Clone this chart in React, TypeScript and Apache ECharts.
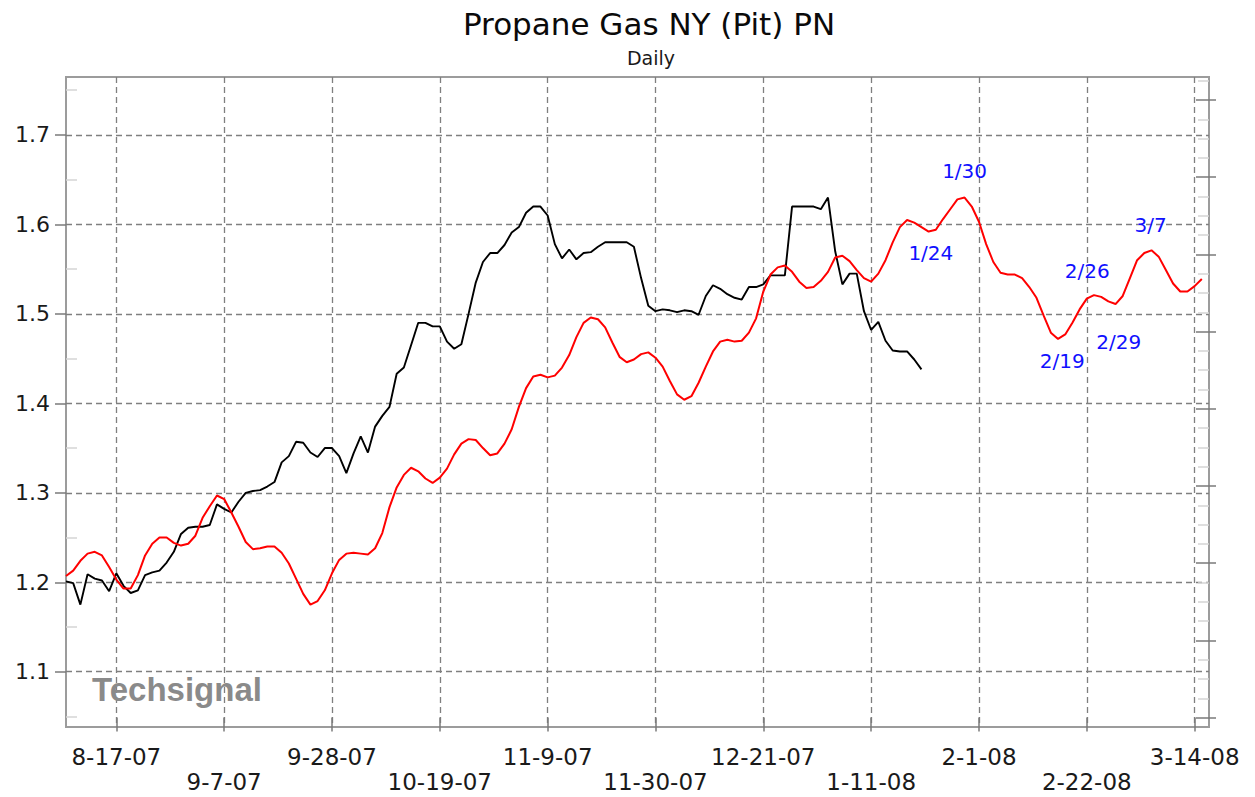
import React, { useEffect, useRef } from "react";
import * as echarts from "echarts";

// ---- categories: trading days (weekdays) shown on the axis ----
function weekdays(start: [number, number, number], end: [number, number, number]): string[] {
  const out: string[] = [];
  let t = Date.UTC(start[0], start[1] - 1, start[2]);
  const e = Date.UTC(end[0], end[1] - 1, end[2]);
  while (t <= e) {
    const d = new Date(t);
    const wd = d.getUTCDay();
    if (wd !== 0 && wd !== 6) {
      out.push(`${d.getUTCMonth() + 1}-${d.getUTCDate()}-${String(d.getUTCFullYear() % 100).padStart(2, "0")}`);
    }
    t += 86400000;
  }
  return out;
}
const dates = weekdays([2007, 8, 8], [2008, 3, 18]);

// ---- tick labels ----
const tickDates = [
  "8-17-07", "9-7-07", "9-28-07", "10-19-07", "11-9-07", "11-30-07",
  "12-21-07", "1-11-08", "2-1-08", "2-22-08", "3-14-08",
];
const yTicks = [1.1, 1.2, 1.3, 1.4, 1.5, 1.6, 1.7];
const yMinorTicks = [1.05, 1.15, 1.25, 1.35, 1.45, 1.55, 1.65, 1.75];
const rightTicks = [0, 1, 2, 3, 4, 5, 6, 7, 8];
const rightMinorTicks = [
  0.25, 0.5, 0.75, 1.25, 1.5, 1.75, 2.25, 2.5, 2.75, 3.25, 3.5, 3.75,
  4.25, 4.5, 4.75, 5.25, 5.5, 5.75, 6.25, 6.5, 6.75, 7.25, 7.5, 7.75, 8.25,
];

// ---- series values ----
const propanePrices = [
  1.201, 1.199, 1.175, 1.209, 1.204, 1.202, 1.190, 1.210, 1.196, 1.188,
  1.191, 1.208, 1.211, 1.213, 1.222, 1.234, 1.254, 1.261, 1.262, 1.262,
  1.264, 1.287, 1.282, 1.278, 1.290, 1.300, 1.302, 1.303, 1.307, 1.312,
  1.334, 1.341, 1.357, 1.356, 1.345, 1.340, 1.350, 1.350, 1.341, 1.322,
  1.344, 1.363, 1.345, 1.374, 1.386, 1.396, 1.433, 1.440, 1.465, 1.490,
  1.490, 1.486, 1.486, 1.469, 1.461, 1.466, 1.500, 1.535, 1.558, 1.568,
  1.568, 1.577, 1.591, 1.597, 1.613, 1.620, 1.620, 1.610, 1.578, 1.562,
  1.572, 1.561, 1.568, 1.569, 1.575, 1.580, 1.580, 1.580, 1.580, 1.575,
  1.540, 1.509, 1.503, 1.505, 1.504, 1.502, 1.504, 1.503, 1.499, 1.520,
  1.532, 1.528, 1.522, 1.518, 1.516, 1.530, 1.530, 1.533, 1.543, 1.543,
  1.543, 1.620, 1.620, 1.620, 1.620, 1.617, 1.630, 1.570, 1.533, 1.545,
  1.545, 1.503, 1.482, 1.491, 1.470, 1.459, 1.458, 1.458, 1.449, 1.438,
];

const seasonalPattern = [
  1.207, 1.213, 1.224, 1.232, 1.234, 1.230, 1.217, 1.203, 1.193, 1.193,
  1.208, 1.230, 1.243, 1.250, 1.250, 1.244, 1.241, 1.243, 1.252, 1.272,
  1.285, 1.297, 1.293, 1.278, 1.262, 1.245, 1.237, 1.238, 1.240, 1.240,
  1.233, 1.221, 1.204, 1.187, 1.175, 1.179, 1.191, 1.210, 1.225, 1.232,
  1.233, 1.232, 1.231, 1.238, 1.255, 1.284, 1.306, 1.320, 1.328, 1.324,
  1.316, 1.311, 1.317, 1.327, 1.343, 1.355, 1.360, 1.359, 1.350, 1.342,
  1.344, 1.355, 1.371, 1.396, 1.417, 1.430, 1.432, 1.429, 1.431, 1.440,
  1.454, 1.474, 1.490, 1.496, 1.494, 1.485, 1.468, 1.452, 1.446, 1.449,
  1.455, 1.457, 1.451, 1.441, 1.425, 1.410, 1.404, 1.408, 1.423, 1.441,
  1.458, 1.469, 1.471, 1.469, 1.470, 1.479, 1.495, 1.525, 1.544, 1.552,
  1.554, 1.547, 1.536, 1.529, 1.530, 1.537, 1.547, 1.563, 1.565, 1.559,
  1.549, 1.540, 1.536, 1.545, 1.560, 1.580, 1.597, 1.605, 1.602, 1.597,
  1.592, 1.594, 1.606, 1.617, 1.628, 1.630, 1.620, 1.603, 1.578, 1.558,
  1.546, 1.544, 1.544, 1.540, 1.530, 1.518, 1.498, 1.479, 1.472, 1.477,
  1.490, 1.505, 1.517, 1.521, 1.519, 1.514, 1.511, 1.520, 1.540, 1.560,
  1.568, 1.571, 1.564, 1.549, 1.534, 1.525, 1.525, 1.531, 1.539,
];

// ---- annotations on the seasonal line ----
const turnDates = ["1-24-08", "1-30-08", "2-19-08", "2-26-08", "2-29-08", "3-7-08"];
const turnLabels = ["1/24", "1/30", "2/19", "2/26", "2/29", "3/7"];
// label placement (pixels, relative to the marked point)
const turnLabelOffsets: [number, number][] = [
  [-5, 23], [0, -27], [-3, 27], [-14, -26], [-4, 46], [-8, -32],
];

const FONT = '"DejaVu Sans", Verdana, sans-serif';

export default function App() {
  const ref = useRef<HTMLDivElement>(null);

  useEffect(() => {
    if (!ref.current) return;
    const chart = echarts.init(ref.current, null, { renderer: "svg" });

    const isTick = (_i: number, value: string) => tickDates.indexOf(value) >= 0;
    const yMin = 1.0382;
    const yMax = 1.7648;
    const rMin = -0.122;
    const rMax = 8.298;
    const gridDash = { color: "#7f7f7f", type: [6, 4], width: 1.3 };

    const hiddenAxisBase = {
      type: "value" as const,
      axisLine: { show: false },
      axisLabel: { show: false },
      splitLine: { show: false },
    };

    const option: any = {
      animation: false,
      backgroundColor: "#ffffff",
      grid: {
        left: 66,
        right: 46,
        top: 77,
        bottom: 70,
        show: true,
        borderColor: "#9c9c9c",
        borderWidth: 2,
        containLabel: false,
        outerBoundsMode: "none",
      },
      graphic: [
        {
          type: "text",
          x: 649,
          y: 24,
          style: {
            text: "Propane Gas NY (Pit) PN",
            font: `31px ${FONT}`,
            fill: "#0a0a0a",
            align: "center",
            verticalAlign: "middle",
          },
        },
        {
          type: "text",
          x: 651,
          y: 58,
          style: {
            text: "Daily",
            font: `19px ${FONT}`,
            fill: "#1a1a1a",
            align: "center",
            verticalAlign: "middle",
          },
        },
        {
          type: "text",
          x: 92,
          y: 689,
          z: 1,
          style: {
            text: "Techsignal",
            font: 'bold 33px "Liberation Sans", Arial, sans-serif',
            fill: "#8a8a8a",
            align: "left",
            verticalAlign: "middle",
          },
        },
      ],
      xAxis: {
        type: "category",
        data: dates,
        boundaryGap: false,
        axisLine: { show: false },
        axisTick: {
          show: true,
          interval: isTick,
          length: 14,
          lineStyle: { color: "#7a7a7a", width: 1.5 },
        },
        axisLabel: {
          show: true,
          interval: isTick,
          formatter: (value: string) =>
            tickDates.indexOf(value) % 2 === 1 ? "\n" + value : value,
          fontFamily: FONT,
          fontSize: 23,
          color: "#1a1a1a",
          margin: 17,
          lineHeight: 25,
        },
        splitLine: {
          show: true,
          interval: isTick,
          lineStyle: gridDash,
        },
      },
      yAxis: [
        {
          type: "value",
          min: yMin,
          max: yMax,
          axisLine: { show: false },
          axisTick: {
            show: true,
            customValues: yTicks,
            length: 11,
            lineStyle: { color: "#7a7a7a", width: 1.5 },
          },
          axisLabel: {
            show: true,
            customValues: yTicks,
            formatter: (v: number) => v.toFixed(1),
            fontFamily: FONT,
            fontSize: 22,
            color: "#1a1a1a",
            margin: 16,
          },
          splitLine: {
            show: true,
            lineStyle: gridDash,
          },
        },
        {
          ...hiddenAxisBase,
          position: "left",
          min: yMin,
          max: yMax,
          axisTick: {
            show: true,
            inside: true,
            customValues: yMinorTicks,
            length: 11,
            lineStyle: { color: "#d4d4d4", width: 1.5 },
          },
        },
        {
          ...hiddenAxisBase,
          position: "right",
          min: rMin,
          max: rMax,
          axisTick: {
            show: true,
            inside: true,
            customValues: rightTicks,
            length: 13,
            lineStyle: { color: "#7a7a7a", width: 1.5 },
          },
        },
        {
          ...hiddenAxisBase,
          position: "right",
          min: rMin,
          max: rMax,
          axisTick: {
            show: true,
            inside: false,
            customValues: rightTicks,
            length: 7,
            lineStyle: { color: "#7a7a7a", width: 1.5 },
          },
        },
        {
          ...hiddenAxisBase,
          position: "right",
          min: rMin,
          max: rMax,
          axisTick: {
            show: true,
            inside: true,
            customValues: rightMinorTicks,
            length: 11,
            lineStyle: { color: "#d4d4d4", width: 1.5 },
          },
        },
      ],
      series: [
        {
          type: "line",
          name: "Propane Gas NY (Pit) PN",
          yAxisIndex: 0,
          data: propanePrices,
          showSymbol: false,
          symbol: "none",
          lineStyle: { color: "#000000", width: 1.9 },
          itemStyle: { color: "#000000" },
          z: 3,
        },
        {
          type: "line",
          name: "Seasonal",
          yAxisIndex: 0,
          data: seasonalPattern,
          showSymbol: false,
          symbol: "none",
          lineStyle: { color: "#ff0000", width: 2 },
          itemStyle: { color: "#ff0000" },
          z: 4,
          markPoint: {
            symbol: "circle",
            symbolSize: 2,
            itemStyle: { color: "rgba(0,0,0,0)" },
            label: {
              show: true,
              position: "inside",
              formatter: "{b}",
              color: "#1010ff",
              fontFamily: FONT,
              fontSize: 20,
            },
            data: turnDates.map((d, k) => {
              const idx = dates.indexOf(d);
              return {
                name: turnLabels[k],
                coord: [idx, seasonalPattern[idx]],
                label: { offset: turnLabelOffsets[k] },
              };
            }),
          },
        },
      ],
    };

    chart.setOption(option);
    return () => chart.dispose();
  }, []);

  return (
    <div
      ref={ref}
      style={{ position: "fixed", left: 0, top: 0, width: 1255, height: 797, background: "#fff" }}
    />
  );
}
